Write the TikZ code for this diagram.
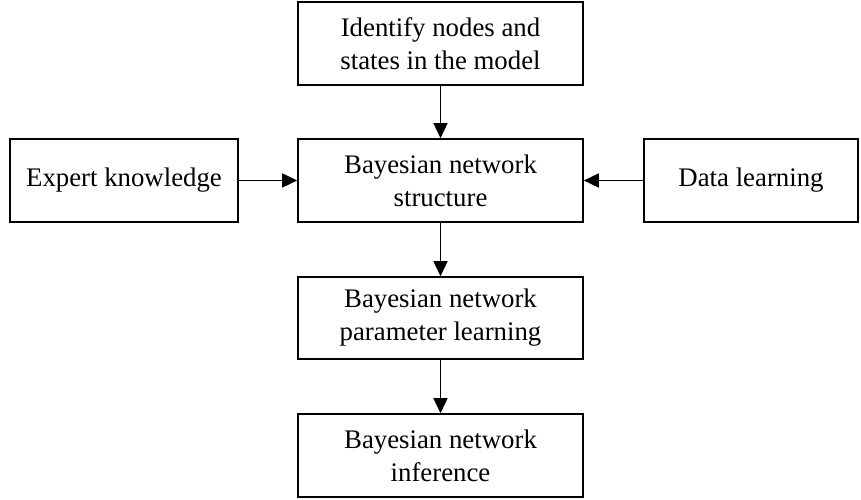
\documentclass[tikz,border=0pt]{standalone}
\usepackage{fontspec}
\setmainfont{Liberation Serif}
\usepackage{tikz}
\usetikzlibrary{positioning,arrows.meta,shapes}

\begin{document}
\begin{tikzpicture}[x=1pt,y=1pt,
    stepbox/.style={draw, line width=1.6pt, rectangle, minimum height=83pt, inner sep=0pt,
        align=center, font=\fontsize{26.8}{33}\selectfont},
    flow/.style={line width=1.6pt, -{Triangle[length=15pt,width=14pt]}}]
    \useasboundingbox (0,0) rectangle (861,500);

    % the boxes (here I just place the nodes at fixed points)
    \node[stepbox, minimum width=285pt] (identify) at (440.5,456.5) {Identify nodes and\\states in the model};
    \node[stepbox, minimum width=285pt] (structure) at (440.5,319.5) {Bayesian network\\structure};
    \node[stepbox, minimum width=228pt] (expert) at (124,319.5) {Expert knowledge};
    \node[stepbox, minimum width=214pt] (data) at (751,319.5) {Data learning};
    \node[stepbox, minimum width=285pt, minimum height=82pt] (param) at (440.5,182) {Bayesian network\\parameter learning};
    \node[stepbox, minimum width=285pt] (infer) at (440.5,44.5) {Bayesian network\\inference};

    % draw the arrows
    \draw[flow] (identify) -- (structure);
    \draw[flow] (expert) -- (structure);
    \draw[flow] (data) -- (structure);
    \draw[flow] (structure) -- (param);
    \draw[flow] (param) -- (infer);

\end{tikzpicture}
\end{document}
